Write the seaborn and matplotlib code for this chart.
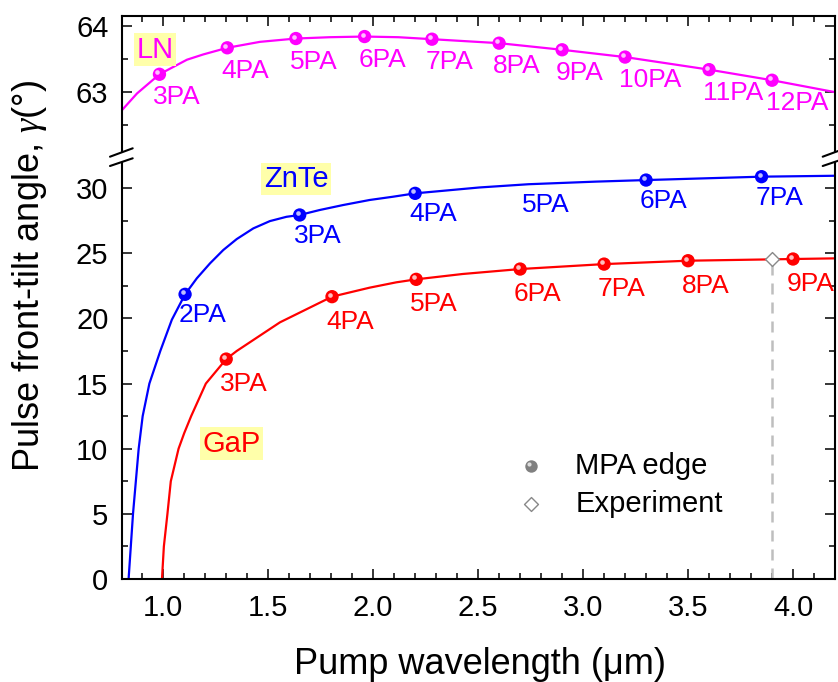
import matplotlib
matplotlib.use("Agg")
import matplotlib.pyplot as plt
import matplotlib.transforms as mtransforms
from matplotlib.patches import Polygon
from matplotlib.ticker import MultipleLocator
import seaborn as sns

# Curvas (comprimento de onda em um, angulo em graus)
ln_curve_x = [0.804, 0.875, 0.982, 1.113, 1.191, 1.305, 1.461, 1.632, 1.793, 1.959, 2.12,
              2.28, 2.60, 2.90, 3.20, 3.60, 3.90, 4.20]
ln_curve_y = [62.73, 62.98, 63.27, 63.49, 63.57, 63.67, 63.76, 63.81, 63.83, 63.84, 63.83,
              63.80, 63.74, 63.64, 63.53, 63.34, 63.18, 63.00]

znte_curve_x = [0.835, 0.856, 0.883, 0.902, 0.934, 0.986, 1.041, 1.104, 1.160, 1.223,
                1.286, 1.350, 1.429, 1.508, 1.587, 1.650, 1.745, 1.856, 1.983, 2.094,
                2.20, 2.505, 2.74, 3.06, 3.30, 3.85, 4.20]
znte_curve_y = [0.0, 5.0, 10.0, 12.5, 15.0, 17.5, 19.9, 21.85, 23.08, 24.23,
                25.25, 26.09, 26.91, 27.47, 27.80, 27.94, 28.32, 28.70, 29.09, 29.34,
                29.60, 30.05, 30.30, 30.50, 30.62, 30.88, 30.95]

gap_curve_x = [0.994, 1.003, 1.020, 1.036, 1.073, 1.10, 1.133, 1.203, 1.30, 1.35,
               1.556, 1.804, 1.983, 2.11, 2.205, 2.426, 2.70, 3.10, 3.50, 4.00, 4.20]
gap_curve_y = [0.0, 2.5, 5.0, 7.5, 10.0, 11.2, 12.5, 15.0, 16.88, 17.5,
               19.7, 21.67, 22.36, 22.77, 23.0, 23.41, 23.79, 24.17, 24.43, 24.56, 24.61]

# Bordas de absorcao multifotonica (MPA)
ln_pa_x = [0.982, 1.305, 1.632, 1.959, 2.28, 2.60, 2.90, 3.20, 3.60, 3.90]
ln_pa_y = [63.27, 63.67, 63.81, 63.84, 63.80, 63.74, 63.64, 63.53, 63.34, 63.18]
ln_pa_labels = ['3PA', '4PA', '5PA', '6PA', '7PA', '8PA', '9PA', '10PA', '11PA', '12PA']

znte_pa_x = [1.104, 1.65, 2.20, 3.30, 3.85]
znte_pa_y = [21.85, 27.94, 29.60, 30.62, 30.88]
znte_pa_labels = ['2PA', '3PA', '4PA', '6PA', '7PA']
znte_5pa_pos = (2.71, 28.7)   # rotulo sem marcador

gap_pa_x = [1.30, 1.804, 2.205, 2.70, 3.10, 3.50, 4.00]
gap_pa_y = [16.88, 21.67, 23.0, 23.79, 24.17, 24.43, 24.56]
gap_pa_labels = ['3PA', '4PA', '5PA', '6PA', '7PA', '8PA', '9PA']

exp_x = [3.9]
exp_y = [24.54]

MAGENTA, BLUE, RED = '#FF00FF', '#0000FF', '#FF0000'
YELLOW = '#FFFFAA'

sns.set_style('ticks')
plt.rcParams['font.family'] = ['Liberation Sans', 'DejaVu Sans']
plt.rcParams['mathtext.fontset'] = 'custom'
plt.rcParams['mathtext.rm'] = 'Liberation Sans'
plt.rcParams['mathtext.it'] = 'Liberation Serif:italic'
for k in ('text.color', 'axes.labelcolor', 'xtick.color', 'ytick.color',
          'axes.edgecolor'):
    plt.rcParams[k] = 'black'

W, H = 838, 682
fig = plt.figure(figsize=(W / 100, H / 100), dpi=100)


def fx(px):
    return px / W


def fy(py):
    return 1 - py / H


left, right = 122.3, 835.0
ax_top = fig.add_axes([fx(left), fy(157), fx(right - left), (157 - 15.7) / H])
ax = fig.add_axes([fx(left), fy(579), fx(right - left), (579 - 157) / H])

for a in (ax, ax_top):
    a.set_xlim(0.805, 4.2)
    a.xaxis.set_major_locator(MultipleLocator(0.5))
    a.xaxis.set_minor_locator(MultipleLocator(0.1))
    for s in a.spines.values():
        s.set_linewidth(1.5)
        s.set_color('black')
    a.tick_params(which='both', direction='in', width=1.1, labelsize=21,
                  right=True, pad=10, colors='black')
    a.tick_params(which='major', length=7.2)
    a.tick_params(which='minor', length=4.3)

ax_top.set_ylim(62.02, 64.155)
ax_top.yaxis.set_major_locator(MultipleLocator(1))
ax_top.yaxis.set_minor_locator(MultipleLocator(0.5))
ax_top.spines['bottom'].set_visible(False)
ax_top.tick_params(which='both', top=True, bottom=False, labelbottom=False)

ax.set_ylim(0, 32.39)
ax.yaxis.set_major_locator(MultipleLocator(5))
ax.yaxis.set_minor_locator(MultipleLocator(2.5))
ax.spines['top'].set_visible(False)
ax.tick_params(which='both', top=False)
ax.tick_params(axis='x', pad=11)

# curvas
sns.lineplot(x=ln_curve_x, y=ln_curve_y, ax=ax_top, color=MAGENTA, lw=1.6,
             sort=False, estimator=None)
sns.lineplot(x=znte_curve_x, y=znte_curve_y, ax=ax, color=BLUE, lw=1.6,
             sort=False, estimator=None)
sns.lineplot(x=gap_curve_x, y=gap_curve_y, ax=ax, color=RED, lw=1.6,
             sort=False, estimator=None)

# linha tracejada do experimento
ax.plot([exp_x[0], exp_x[0]], [0, exp_y[0]], color='#BEBEBE', lw=1.8,
        dashes=(4.4, 3.2), zorder=2)


def spheres(a, xs, ys, color, size=92):
    sns.scatterplot(x=xs, y=ys, ax=a, color=color, s=size, edgecolor='none',
                    zorder=4, legend=False)
    hl = mtransforms.offset_copy(a.transData, fig=fig, x=-2, y=2, units='dots')
    a.scatter(xs, ys, s=size * 0.12, color='white', alpha=0.75, lw=0,
              transform=hl, zorder=5)


spheres(ax_top, ln_pa_x, ln_pa_y, MAGENTA)
spheres(ax, znte_pa_x, znte_pa_y, BLUE)
spheres(ax, gap_pa_x, gap_pa_y, RED)

ax.scatter(exp_x, exp_y, marker='D', s=50, facecolor='white', edgecolor='#888888',
           lw=1.0, zorder=5)


def pa_labels(a, xs, ys, labels, color, dy=-23):
    for x, y, t in zip(xs, ys, labels):
        a.annotate(t, (x, y), xytext=(-6, dy), textcoords='offset pixels',
                   ha='left', va='center', fontsize=19, color=color, zorder=6)


pa_labels(ax_top, ln_pa_x, ln_pa_y, ln_pa_labels, MAGENTA)
pa_labels(ax, znte_pa_x, znte_pa_y, znte_pa_labels, BLUE, dy=-21)
pa_labels(ax, gap_pa_x, gap_pa_y, gap_pa_labels, RED, dy=-25)
ax.text(znte_5pa_pos[0], znte_5pa_pos[1], '5PA', ha='left', va='center',
        fontsize=19, color=BLUE)

box = dict(boxstyle='square,pad=0.08', fc=YELLOW, ec='none')
ax_top.text(0.962, 63.64, 'LN', ha='center', va='center', fontsize=21,
            color=MAGENTA, bbox=box)
ax.text(1.633, 30.70, 'ZnTe', ha='center', va='center', fontsize=21,
        color=BLUE, bbox=box)
ax.text(1.324, 10.38, 'GaP', ha='center', va='center', fontsize=21,
        color=RED, bbox=box)

# legenda
ax.scatter([0.5736], [0.2678], s=80, color='#808080', lw=0, transform=ax.transAxes,
           zorder=5)
hl = mtransforms.offset_copy(ax.transAxes, fig=fig, x=-2, y=2, units='dots')
ax.scatter([0.5736], [0.2678], s=9, color='white', alpha=0.75, lw=0, transform=hl,
           zorder=6)
ax.scatter([0.5736], [0.177], marker='D', s=50, facecolor='white',
           edgecolor='#888888', lw=1.0, transform=ax.transAxes, zorder=5)
ax.text(0.6357, 0.2678, 'MPA edge', transform=ax.transAxes, ha='left',
        va='center', fontsize=21)
ax.text(0.6357, 0.177, 'Experiment', transform=ax.transAxes, ha='left',
        va='center', fontsize=21)

# marcas de quebra do eixo
for cx in (left, right):
    l1 = [(cx - 12.3, 156.7), (cx + 10.4, 148.3)]
    l2 = [(cx - 12.3, 166.0), (cx + 10.4, 158.3)]
    poly = Polygon([(fx(p[0]), fy(p[1])) for p in l1 + l2[::-1]],
                   closed=True, transform=fig.transFigure, fc='white', ec='none',
                   zorder=10)
    fig.add_artist(poly)
    for seg in (l1, l2):
        fig.add_artist(plt.Line2D([fx(seg[0][0]), fx(seg[1][0])],
                                  [fy(seg[0][1]), fy(seg[1][1])],
                                  transform=fig.transFigure, color='black',
                                  lw=1.5, zorder=11))

fig.text(fx(480), fy(665), 'Pump wavelength (\u03bcm)', ha='center', va='center',
         fontsize=26)
fig.text(fx(30), fy(276), 'Pulse front-tilt angle, $\\gamma$(\u00b0)',
         rotation=90, ha='center', va='center', fontsize=26)

fig.savefig('out.png', dpi=100)
